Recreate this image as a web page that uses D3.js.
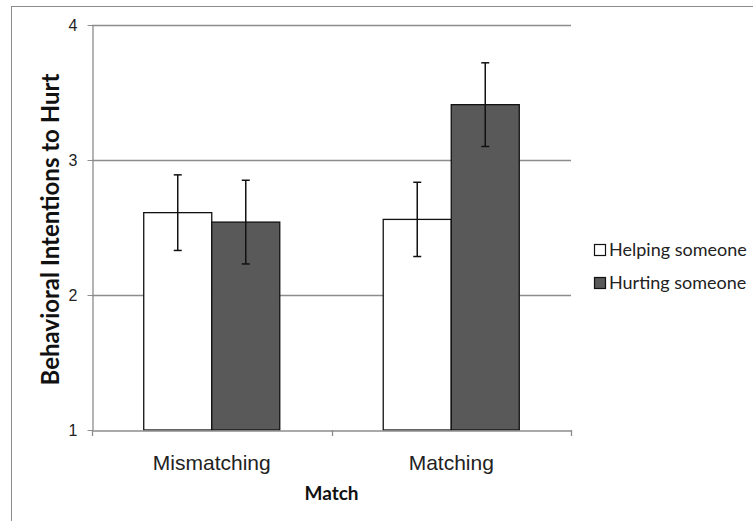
<!DOCTYPE html>
<html>
<head>
<meta charset="utf-8">
<script src="https://cdn.jsdelivr.net/npm/d3@7"></script>
<style>
  body { margin: 0; background: #fff; }
  svg { display: block; font-family: Lato, "Open Sans", sans-serif; }
</style>
</head>
<body>
<div id="chart"></div>
<script>
// data
const categories = ["Mismatching", "Matching"];
const seriesNames = ["Helping someone", "Hurting someone"];
const seriesColors = ["#ffffff", "#595959"];
const means = [
  [2.61, 2.54],   // Mismatching: helping, hurting
  [2.56, 3.41]    // Matching
];
const errors = [
  [0.28, 0.31],
  [0.275, 0.31]
];
const yTicks = [1, 2, 3, 4];

const width = 753, height = 521;
const margin = { left: 92, right: 182, top: 25, bottom: 91 };

const svg = d3.select("#chart").append("svg")
  .attr("width", width)
  .attr("height", height);

// outer chart border (runs off the bottom/right of the picture)
svg.append("rect")
  .attr("x", 11.5).attr("y", 6.5)
  .attr("width", 760).attr("height", 540)
  .attr("fill", "none").attr("stroke", "#8c8c8c").attr("stroke-width", 1);

const x0 = d3.scaleBand()
  .domain(categories)
  .range([margin.left, width - margin.right])
  .paddingInner(0.432)
  .paddingOuter(0.216);

const x1 = d3.scaleBand()
  .domain(seriesNames)
  .range([0, x0.bandwidth()]);

const y = d3.scaleLinear()
  .domain([1, 4])
  .range([height - margin.bottom, margin.top]);

// gridlines
svg.append("g")
  .selectAll("line")
  .data(yTicks.slice(1))
  .join("line")
  .attr("x1", margin.left).attr("x2", width - margin.right)
  .attr("y1", d => Math.round(y(d)) + 0.5).attr("y2", d => Math.round(y(d)) + 0.5)
  .attr("stroke", "#8c8c8c").attr("stroke-width", 1.3);

// y axis
const yAxis = svg.append("g")
  .attr("transform", `translate(${margin.left + 0.5},0)`)
  .call(d3.axisLeft(y).tickValues(yTicks).tickFormat(d3.format("d")).tickSize(5).tickSizeOuter(0));
yAxis.select(".domain").attr("stroke", "#8c8c8c").attr("stroke-width", 1.3);
yAxis.selectAll(".tick line").attr("stroke", "#8c8c8c");
yAxis.selectAll(".tick text")
  .attr("font-size", 16).attr("fill", "#222").attr("x", -15);

// bars
const groups = svg.append("g")
  .selectAll("g")
  .data(categories)
  .join("g")
  .attr("transform", d => `translate(${x0(d)},0)`);

groups.selectAll("rect")
  .data((c, i) => seriesNames.map((s, j) => ({ s, j, v: means[i][j], e: errors[i][j] })))
  .join("rect")
  .attr("x", d => x1(d.s))
  .attr("y", d => y(d.v))
  .attr("width", x1.bandwidth())
  .attr("height", d => y(1) - y(d.v))
  .attr("fill", d => seriesColors[d.j])
  .attr("stroke", "#111").attr("stroke-width", 1.3);

// error bars
const eb = groups.selectAll("g.err")
  .data((c, i) => seriesNames.map((s, j) => ({ s, j, v: means[i][j], e: errors[i][j] })))
  .join("g")
  .attr("class", "err")
  .attr("transform", d => `translate(${x1(d.s) + x1.bandwidth() / 2},0)`)
  .attr("stroke", "#111").attr("stroke-width", 1.5);
eb.append("line")
  .attr("y1", d => y(d.v + d.e)).attr("y2", d => y(d.v - d.e));
eb.append("line")
  .attr("x1", -4).attr("x2", 4)
  .attr("y1", d => y(d.v + d.e)).attr("y2", d => y(d.v + d.e));
eb.append("line")
  .attr("x1", -4).attr("x2", 4)
  .attr("y1", d => y(d.v - d.e)).attr("y2", d => y(d.v - d.e));

// x axis
const xAxis = svg.append("g")
  .attr("transform", `translate(0,${y(1) + 0.5})`)
  .call(d3.axisBottom(x0).tickSize(0).tickSizeOuter(0));
xAxis.select(".domain").attr("stroke", "#8c8c8c").attr("stroke-width", 1.3);
xAxis.selectAll(".tick text")
  .attr("font-size", 21).attr("fill", "#222").attr("dy", 0).attr("y", 39);

// category separators on x axis
const xEdges = [margin.left, width - margin.right,
  (x0(categories[0]) + x0.bandwidth() + x0(categories[1])) / 2];
svg.append("g")
  .selectAll("line")
  .data(xEdges)
  .join("line")
  .attr("x1", d => Math.round(d) + 0.5).attr("x2", d => Math.round(d) + 0.5)
  .attr("y1", y(1)).attr("y2", y(1) + 6)
  .attr("stroke", "#8c8c8c").attr("stroke-width", 1.3);

// axis titles
svg.append("text")
  .attr("x", (margin.left + width - margin.right) / 2)
  .attr("y", 500)
  .attr("text-anchor", "middle")
  .attr("font-size", 19).attr("font-weight", "bold").attr("fill", "#111")
  .text("Match");

svg.append("text")
  .attr("transform", `translate(49,${(margin.top + height - margin.bottom) / 2 + 2}) rotate(-90)`)
  .attr("text-anchor", "middle")
  .attr("dominant-baseline", "central")
  .attr("font-size", 24).attr("font-weight", "bold").attr("fill", "#111")
  .text("Behavioral Intentions to Hurt");

// legend
const legend = svg.append("g")
  .selectAll("g")
  .data(seriesNames)
  .join("g")
  .attr("transform", (d, i) => `translate(594,${250 + i * 33})`);
legend.append("rect")
  .attr("x", 0.5).attr("y", -5.5)
  .attr("width", 11).attr("height", 11)
  .attr("fill", (d, i) => seriesColors[i])
  .attr("stroke", "#111").attr("stroke-width", 1.2);
legend.append("text")
  .attr("x", 15).attr("y", 0).attr("dy", "0.35em")
  .attr("font-size", 18).attr("fill", "#222")
  .text(d => d);
</script>
</body>
</html>
